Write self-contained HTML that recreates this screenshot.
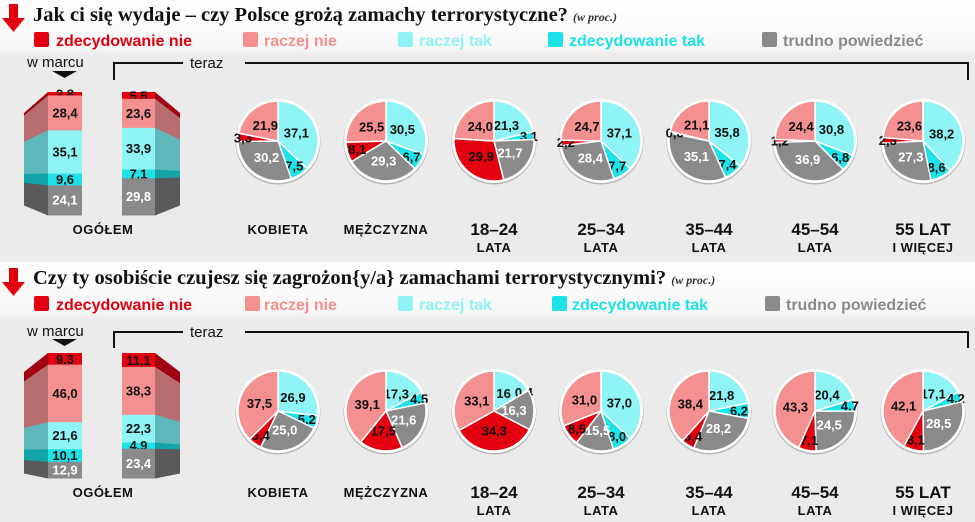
<!DOCTYPE html>
<html><head><meta charset="utf-8">
<style>
html,body{margin:0;padding:0;background:#ebebeb;}
svg{display:block;}
.t{font-family:"Liberation Serif",serif;font-weight:bold;font-size:20.5px;fill:#111;}
.ts{font-family:"Liberation Serif",serif;font-style:italic;font-size:12px;fill:#333;}
.lg{font-family:"Liberation Sans","DejaVu Sans",sans-serif;font-weight:bold;font-size:16px;}
.sm{font-family:"Liberation Sans",sans-serif;font-size:15px;fill:#111;}
.cat{font-family:"Liberation Sans",sans-serif;font-weight:bold;font-size:13px;fill:#111;letter-spacing:0.5px;}
.catb{font-family:"Liberation Sans",sans-serif;font-weight:bold;font-size:17px;fill:#111;}
.v{font-family:"Liberation Sans Narrow","Liberation Sans",sans-serif;font-weight:bold;font-size:13px;}
</style></head>
<body>
<svg id="s" width="975" height="522" viewBox="0 0 975 522" xmlns="http://www.w3.org/2000/svg">
<defs>
<linearGradient id="hg" x1="0" y1="0" x2="0" y2="1"><stop offset="0" stop-color="#ffffff"/><stop offset="0.85" stop-color="#f7f7f7"/><stop offset="1" stop-color="#ebebeb"/></linearGradient>
</defs>
<rect x="0" y="0" width="975" height="522" fill="#ebebeb"/>
<rect x="0" y="0" width="975" height="56" fill="url(#hg)"/>
<rect x="0" y="262" width="975" height="58" fill="url(#hg)"/>

<path d="M9 4 h9 v14 h7 l-11.5 14 l-11.5 -14 h7 z" fill="#e3000f"/>
<text x="33" y="21" class="t">Jak ci się wydaje – czy Polsce grożą zamachy terrorystyczne? <tspan class="ts">(w proc.)</tspan></text>
<rect x="34" y="32" width="15" height="15" rx="2" fill="#e3000f"/><text x="56" y="46" class="lg" fill="#e3000f">zdecydowanie nie</text>
<rect x="243" y="32" width="15" height="15" rx="2" fill="#f4908f"/><text x="264" y="46" class="lg" fill="#f4908f">raczej nie</text>
<rect x="398" y="32" width="15" height="15" rx="2" fill="#8ef4f6"/><text x="419" y="46" class="lg" fill="#8ef4f6">raczej tak</text>
<rect x="548" y="32" width="15" height="15" rx="2" fill="#1de3e8"/><text x="569" y="46" class="lg" fill="#1de3e8">zdecydowanie tak</text>
<rect x="762" y="32" width="15" height="15" rx="2" fill="#8a8a8a"/><text x="783" y="46" class="lg" fill="#8a8a8a">trudno powiedzieć</text>
<text x="27" y="67" class="sm">w marcu</text>
<path d="M52 71 h25 l-12.5 7 z" fill="#111"/>
<path d="M114 80 V63 H183 M245 63 H968 V80" fill="none" stroke="#111" stroke-width="2"/>
<text x="190" y="68" class="sm">teraz</text>

<path d="M9 268 h9 v14 h7 l-11.5 14 l-11.5 -14 h7 z" fill="#e3000f"/>
<text x="33" y="284" class="t">Czy ty osobiście czujesz się zagrożon{y/a} zamachami terrorystycznymi? <tspan class="ts">(w proc.)</tspan></text>
<rect x="34" y="296" width="15" height="15" rx="2" fill="#e3000f"/><text x="56" y="310" class="lg" fill="#e3000f">zdecydowanie nie</text>
<rect x="245" y="296" width="15" height="15" rx="2" fill="#f4908f"/><text x="264" y="310" class="lg" fill="#f4908f">raczej nie</text>
<rect x="398" y="296" width="15" height="15" rx="2" fill="#8ef4f6"/><text x="419" y="310" class="lg" fill="#8ef4f6">raczej tak</text>
<rect x="552" y="296" width="15" height="15" rx="2" fill="#1de3e8"/><text x="572" y="310" class="lg" fill="#1de3e8">zdecydowanie tak</text>
<rect x="765" y="296" width="15" height="15" rx="2" fill="#8a8a8a"/><text x="786" y="310" class="lg" fill="#8a8a8a">trudno powiedzieć</text>
<text x="27" y="336" class="sm">w marcu</text>
<path d="M52 339 h25 l-12.5 7 z" fill="#111"/>
<path d="M114 348 V332 H183 M245 332 H968 V348" fill="none" stroke="#111" stroke-width="2"/>
<text x="190" y="337" class="sm">teraz</text>

<g id="dyn"></g>

<text x="103" y="234" class="cat" text-anchor="middle">OGÓŁEM</text>
<text x="103" y="497" class="cat" text-anchor="middle">OGÓŁEM</text>
</svg>
<script>
var NS="http://www.w3.org/2000/svg";
var g=document.getElementById("dyn");
function el(t,a,txt){var e=document.createElementNS(NS,t);for(var k in a)e.setAttribute(k,a[k]);if(txt!=null)e.textContent=txt;g.appendChild(e);return e;}
var C=["#e3000f","#f4908f","#8ef4f6","#1de3e8","#8a8a8a"];
var D=["#a00010","#b86e6e","#5cb8ba","#14a4a8","#5a5a5a"];
function fmt(v){return (v%1===0&&v!==16?v.toFixed(1):String(v)).replace(".",",");}
function bar(fx,fw,top,bot,sx,stop,sbot,vals,labs){
  var tot=vals.reduce(function(a,b){return a+b},0);
  var y=top,ys=stop;
  for(var i=0;i<5;i++){
    var h=(bot-top)*vals[i]/tot, hs=(sbot-stop)*vals[i]/tot;
    el("rect",{x:fx,y:y,width:fw,height:h+0.5,fill:C[i]});
    el("polygon",{points:(fx+(sx<fx?0:fw))+","+y+" "+sx+","+ys+" "+sx+","+(ys+hs+0.5)+" "+(fx+(sx<fx?0:fw))+","+(y+h+0.5),fill:D[i]});
    var ty=y+h/2+4.5; if(i==0) ty=y+h/2+5;
    el("text",{x:fx+fw/2,y:ty,"text-anchor":"middle","class":"v",fill:i==4?"#fff":"#111"},labs[i]);
    y+=h;ys+=hs;
  }
}
bar(48,34,92,215,24,113,205,[2.8,28.4,35.1,9.6,24.1],["2,8","28,4","35,1","9,6","24,1"]);
bar(122,33,92,215,180,113,205,[5.5,23.6,33.9,7.1,29.8],["5,5","23,6","33,9","7,1","29,8"]);
bar(48,34,353,478,24,372,473,[9.3,46.0,21.6,10.1,12.9],["9,3","46,0","21,6","10,1","12,9"]);
bar(122,33,353,478,180,372,473,[11.1,38.3,22.3,4.9,23.4],["11,1","38,3","22,3","4,9","23,4"]);

function pie(cx,cy,r,v,l){
  el("circle",{cx:cx,cy:cy+1,r:r+2.5,fill:"#b5b5b5"});
  el("circle",{cx:cx,cy:cy,r:r+2,fill:"#fff"});
  var order=[2,3,4,0,1];var tot=0;order.forEach(function(i){tot+=v[i]});
  var a=-Math.PI/2;
  order.forEach(function(i){
    var s=v[i]/tot*2*Math.PI,b=a+s;
    var x1=cx+r*Math.cos(a),y1=cy+r*Math.sin(a),x2=cx+r*Math.cos(b),y2=cy+r*Math.sin(b);
    el("path",{d:"M"+cx+","+cy+" L"+x1+","+y1+" A"+r+","+r+" 0 "+(s>Math.PI?1:0)+" 1 "+x2+","+y2+" Z",fill:C[i],stroke:"#fff","stroke-width":1.5});
    var m=a+s/2,d=v[i]>15?0.5:(v[i]>5?0.75:0.88);
    var tx=cx+r*d*Math.cos(m),ty=cy+r*d*Math.sin(m)+4.5;
    el("text",{x:tx,y:ty,"text-anchor":"middle","class":"v",fill:i==4?"#fff":"#111"},l[i]);
    a=b;
  });
}
var X=[278,386,494,601,709,815,923];
var T=[[3.3,21.9,37.1,7.5,30.2],[8.1,25.5,30.5,6.7,29.3],[29.9,24.0,21.3,3.1,21.7],[2.2,24.7,37.1,7.7,28.4],[0.6,21.1,35.8,7.4,35.1],[1.2,24.4,30.8,6.8,36.9],[2.3,23.6,38.2,8.6,27.3]];
var B=[[5.4,37.5,26.9,5.2,25.0],[17.5,39.1,17.3,4.5,21.6],[34.3,33.1,16,0.4,16.3],[8.5,31.0,37.0,8.0,15.5],[5.4,38.4,21.8,6.2,28.2],[7.1,43.3,20.4,4.7,24.5],[8.1,42.1,17.1,4.2,28.5]];
for(var k=0;k<7;k++){
  pie(X[k],141,40,T[k],T[k].map(fmt));
  pie(X[k],411,40,B[k],B[k].map(fmt));
}
var cats=[["KOBIETA",""],["MĘŻCZYZNA",""],["18–24","LATA"],["25–34","LATA"],["35–44","LATA"],["45–54","LATA"],["55 LAT","I WIĘCEJ"]];
for(var k=0;k<7;k++){
  [0,263].forEach(function(off){
    if(cats[k][1]===""){el("text",{x:X[k],y:234+off,"text-anchor":"middle","class":"cat"},cats[k][0]);}
    else{
      el("text",{x:X[k],y:235+off,"text-anchor":"middle","class":"catb"},cats[k][0]);
      el("text",{x:X[k],y:252+off,"text-anchor":"middle","class":"cat"},cats[k][1]);
    }
  });
}
</script>
</body></html>
